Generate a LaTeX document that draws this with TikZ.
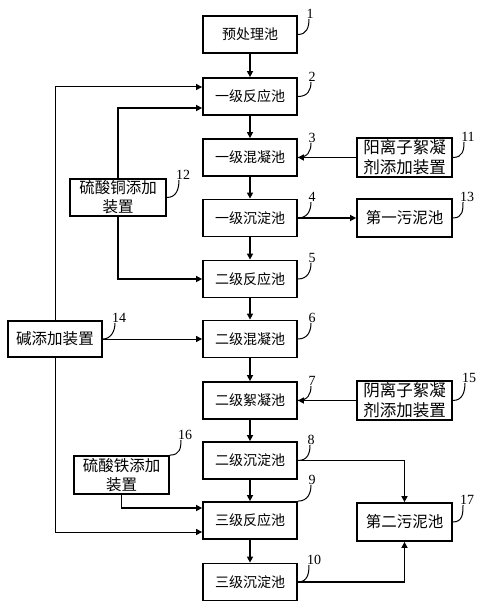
\documentclass[tikz,border=0pt]{standalone}
\usepackage{fontspec}
\setmainfont{Liberation Serif}
\newfontfamily\cjk{Noto Sans CJK SC}
\usetikzlibrary{arrows.meta}
\begin{document}
\begin{tikzpicture}[x=1pt,y=-1pt,
  box/.style={draw,line width=1.8pt,minimum width=94pt,minimum height=37pt,inner sep=0pt,align=center,font=\cjk\fontsize{14}{18}\selectfont},
  sidebox/.style={box,minimum width=95pt,minimum height=38pt,font=\cjk\fontsize{15.5}{19}\selectfont},
  bigbox/.style={box,minimum width=95pt,minimum height=39pt,font=\cjk\fontsize{16.5}{20}\selectfont},
  flow/.style={line width=1.8pt,-{Triangle[length=6pt,width=6pt]}},
  thinflow/.style={line width=1pt,-{Triangle[length=6pt,width=6pt]}},
  lead/.style={line width=1pt},
  num/.style={anchor=south,inner sep=0pt,font=\fontsize{14}{14}\selectfont}
]
\useasboundingbox (0,0) rectangle (485,607);
\fill[white] (0,0) rectangle (485,607);
% main column
\node[box] (b1) at (250,34.5) {预处理池};
\node[box] (b2) at (250,96.5) {一级反应池};
\node[box] (b3) at (250,157.5) {一级混凝池};
\node[box] (b4) at (250,218) {一级沉淀池};
\node[box] (b5) at (250,279) {二级反应池};
\node[box] (b6) at (250,339) {二级混凝池};
\node[box] (b7) at (250,400.5) {二级絮凝池};
\node[box] (b8) at (250,460.5) {二级沉淀池};
\node[box] (b9) at (250,520.5) {三级反应池};
\node[box] (b10) at (250,582) {三级沉淀池};
% right column
\node[bigbox] (b11) at (404.5,157.5) {阳离子絮凝\\剂添加装置};
\node[sidebox] (b13) at (404.5,218) {第一污泥池};
\node[bigbox] (b15) at (404.5,400.5) {阴离子絮凝\\剂添加装置};
\node[sidebox] (b17) at (404.5,522) {第二污泥池};
% left column
\node[sidebox,minimum width=96pt,minimum height=37pt] (b12) at (118,197.5) {硫酸铜添加\\装置};
\node[sidebox,minimum width=94pt,minimum height=36pt] (b14) at (55,339) {碱添加装置};
\node[sidebox] (b16) at (121.5,475) {硫酸铁添加\\装置};
% main flow
\draw[flow] (b1) -- (b2);
\draw[flow] (b2) -- (b3);
\draw[flow] (b3) -- (b4);
\draw[flow] (b4) -- (b5);
\draw[flow] (b5) -- (b6);
\draw[flow] (b6) -- (b7);
\draw[flow] (b7) -- (b8);
\draw[flow] (b8) -- (b9);
\draw[flow] (b9) -- (b10);
% side feeds
\draw[flow] (b11) -- (b3);
\draw[flow] (b4) -- (b13);
\draw[flow] (b15) -- (b7);
\draw[flow] (b8.east) -| (b17.north);
\draw[flow] (b10.east) -| (b17.south);
\draw[flow] (b12.north) |- ([yshift=-11.5pt]b2.west);
\draw[flow] (b12.south) |- (b5.west);
\draw[thinflow] (b14.north) |- ([yshift=9.5pt]b2.west);
\draw[thinflow] (b14) -- (b6);
\draw[thinflow] (b14.south) |- ([yshift=-11.5pt]b9.west);
\draw[flow] (b16.south) |- ([yshift=12.5pt]b9.west);
% number labels
\node[num] (l1) at (310,19) {1};
\node[num] (l2) at (312,82) {2};
\node[num] (l3) at (312,143) {3};
\node[num] (l4) at (312,202) {4};
\node[num] (l5) at (312,263) {5};
\node[num] (l6) at (312,323) {6};
\node[num] (l7) at (312,386) {7};
\node[num] (l8) at (311,445) {8};
\node[num] (l9) at (312,485) {9};
\node[num] (l10) at (314,565) {10};
\node[num] (l11) at (468,142) {11};
\node[num] (l12) at (183,180) {12};
\node[num] (l13) at (467,202) {13};
\node[num] (l14) at (119,323) {14};
\node[num] (l15) at (469,383) {15};
\node[num] (l16) at (185,440) {16};
\node[num] (l17) at (467,505) {17};
% leader curves
\draw[lead] (b1.east) .. controls +(9,0) and +(0,8) .. ([xshift=-1pt]l1.south);
\draw[lead] (b2.east) .. controls +(10,0) and +(0,8) .. ([xshift=-1pt]l2.south);
\draw[lead] (b3.east) .. controls +(10,0) and +(0,8) .. ([xshift=-1pt]l3.south);
\draw[lead] (b4.east) .. controls +(10,0) and +(0,8) .. ([xshift=-1pt]l4.south);
\draw[lead] (b5.east) .. controls +(10,0) and +(0,8) .. ([xshift=-1pt]l5.south);
\draw[lead] (b6.east) .. controls +(10,0) and +(0,8) .. ([xshift=-1pt]l6.south);
\draw[lead] (b7.east) .. controls +(10,0) and +(0,8) .. ([xshift=-1pt]l7.south);
\draw[lead] (b8.east) .. controls +(10,0) and +(0,8) .. ([xshift=-1pt]l8.south);
\draw[lead] (b9.north east) .. controls +(10,0) and +(0,8) .. ([xshift=-1pt]l9.south);
\draw[lead] (b10.east) .. controls +(10,0) and +(0,8) .. ([xshift=-5pt]l10.south);
\draw[lead] (b11.east) .. controls +(10,0) and +(0,8) .. ([xshift=-4pt]l11.south);
\draw[lead] (b12.east) .. controls +(10,0) and +(0,8) .. ([xshift=-4pt]l12.south);
\draw[lead] (b13.east) .. controls +(10,0) and +(0,8) .. ([xshift=-4pt]l13.south);
\draw[lead] (b14.east) .. controls +(8,0) and +(0,8) .. ([xshift=-4pt]l14.south);
\draw[lead] (b15.east) .. controls +(10,0) and +(0,8) .. ([xshift=-4pt]l15.south);
\draw[lead] (b16.north east) .. controls +(10,0) and +(0,8) .. ([xshift=-4pt]l16.south);
\draw[lead] (b17.east) .. controls +(10,0) and +(0,8) .. ([xshift=-4pt]l17.south);
\end{tikzpicture}
\end{document}
